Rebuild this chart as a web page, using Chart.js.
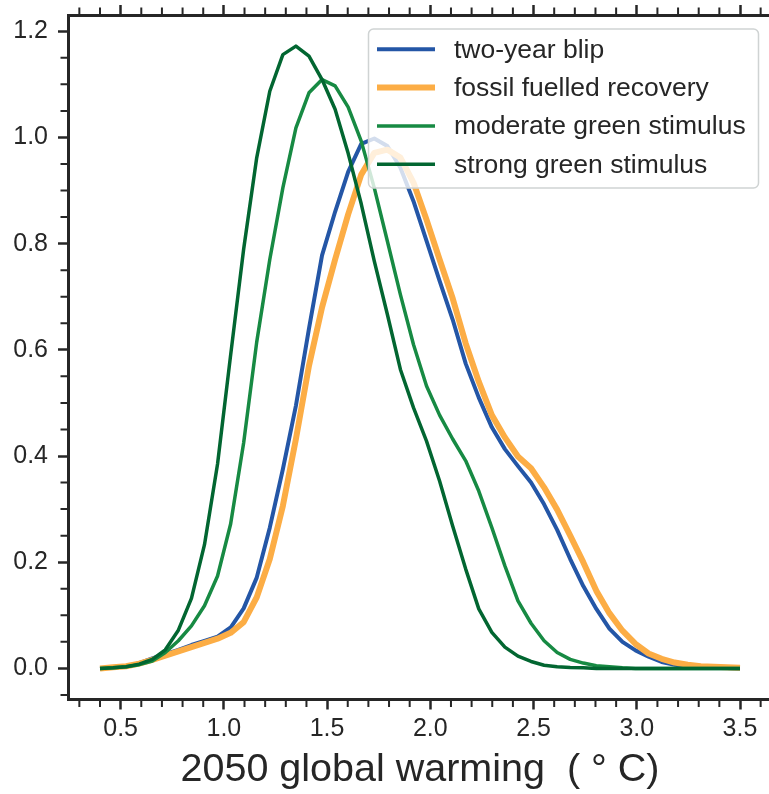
<!DOCTYPE html>
<html>
<head>
<meta charset="utf-8">
<script src="https://cdn.jsdelivr.net/npm/chart.js@4.4.0/dist/chart.umd.min.js"></script>
<style>
    html, body { margin: 0; padding: 0; background: #fff; overflow: hidden; }
    #wrap { width: 775px; height: 794px; }
</style>
</head>
<body>
<div id="wrap"><canvas id="myChart" width="775" height="794"></canvas></div>
<script>
// valores (50 puntos entre 0.4 y 3.5)
const warming = [0.4, 0.4633, 0.5265, 0.5898, 0.6531, 0.7163, 0.7796, 0.8429, 0.9061, 0.9694,
    1.0327, 1.0959, 1.1592, 1.2224, 1.2857, 1.3490, 1.4122, 1.4755, 1.5388, 1.6020,
    1.6653, 1.7286, 1.7918, 1.8551, 1.9184, 1.9816, 2.0449, 2.1082, 2.1714, 2.2347,
    2.2980, 2.3612, 2.4245, 2.4878, 2.5510, 2.6143, 2.6776, 2.7408, 2.8041, 2.8673,
    2.9306, 2.9939, 3.0571, 3.1204, 3.1837, 3.2469, 3.3102, 3.3735, 3.4367, 3.5];

const twoYearBlip = [0, 0.002, 0.004, 0.010, 0.019, 0.027, 0.035, 0.044, 0.052, 0.060,
    0.077, 0.113, 0.171, 0.265, 0.375, 0.495, 0.640, 0.778, 0.860, 0.935,
    0.988, 0.998, 0.984, 0.943, 0.880, 0.805, 0.730, 0.657, 0.574, 0.510,
    0.454, 0.413, 0.381, 0.350, 0.309, 0.261, 0.206, 0.155, 0.112, 0.075,
    0.050, 0.034, 0.022, 0.012, 0.007, 0.004, 0.002, 0.001, 0.0005, 0];

const fossilRecovery = [0, 0.002, 0.004, 0.009, 0.016, 0.024, 0.032, 0.040, 0.048, 0.056,
    0.067, 0.087, 0.134, 0.206, 0.306, 0.432, 0.570, 0.680, 0.770, 0.855,
    0.930, 0.971, 0.977, 0.962, 0.915, 0.845, 0.770, 0.697, 0.612, 0.540,
    0.477, 0.435, 0.399, 0.377, 0.341, 0.299, 0.250, 0.200, 0.146, 0.104,
    0.071, 0.046, 0.028, 0.018, 0.011, 0.007, 0.004, 0.003, 0.002, 0.001];

const moderateGreen = [0, 0.001, 0.003, 0.007, 0.014, 0.030, 0.052, 0.080, 0.118, 0.174,
    0.272, 0.425, 0.615, 0.770, 0.905, 1.018, 1.084, 1.109, 1.097, 1.057,
    0.993, 0.905, 0.805, 0.704, 0.610, 0.532, 0.477, 0.432, 0.391, 0.334,
    0.265, 0.193, 0.127, 0.085, 0.052, 0.030, 0.017, 0.010, 0.005, 0.003,
    0.001, 0, 0, 0, 0, 0, 0, 0, 0, 0];

const strongGreen = [0, 0.001, 0.003, 0.008, 0.017, 0.035, 0.072, 0.132, 0.233, 0.385,
    0.590, 0.790, 0.962, 1.087, 1.156, 1.172, 1.153, 1.109, 1.053, 0.970,
    0.875, 0.767, 0.667, 0.563, 0.491, 0.428, 0.353, 0.268, 0.187, 0.112,
    0.068, 0.040, 0.023, 0.013, 0.006, 0.003, 0.0015, 0.001, 0, 0,
    0, 0, 0, 0, 0, 0, 0, 0, 0, 0];

const seriesNames = ['two-year blip', 'fossil fuelled recovery', 'moderate green stimulus', 'strong green stimulus'];

const xTicks = [0.5, 1.0, 1.5, 2.0, 2.5, 3.0, 3.5];
const xMinorTicks = [0.3, 0.4, 0.6, 0.7, 0.8, 0.9, 1.1, 1.2, 1.3, 1.4, 1.6, 1.7, 1.8, 1.9,
    2.1, 2.2, 2.3, 2.4, 2.6, 2.7, 2.8, 2.9, 3.1, 3.2, 3.3, 3.4, 3.6];
const yTicks = [0.0, 0.2, 0.4, 0.6, 0.8, 1.0, 1.2];
const yMinorTicks = [-0.05, 0.05, 0.1, 0.15, 0.25, 0.3, 0.35, 0.45, 0.5, 0.55, 0.65, 0.7, 0.75,
    0.85, 0.9, 0.95, 1.05, 1.1, 1.15];

const axisColor = '#262626';
const textColor = '#262626';
const fontFamily = '"Liberation Sans", Arial, Helvetica, sans-serif';

function toPoints(values) {
    return values.map((v, i) => ({ x: warming[i], y: v }));
}

// quita el relleno que Chart.js reserva para las etiquetas de los extremos
function noEdgePadding(s) {
    s.paddingTop = 0;
    s.paddingBottom = 0;
    s.paddingLeft = 0;
    s.paddingRight = 0;
}

// ticks menores y eje superior
const minorTicks = {
    id: 'minorTicks',
    afterDraw(chart) {
        const ctx = chart.ctx;
        const area = chart.chartArea;
        ctx.save();
        ctx.strokeStyle = axisColor;
        ctx.lineWidth = 2;
        ctx.beginPath();
        xMinorTicks.forEach(v => {
            const px = chart.scales.x.getPixelForValue(v);
            ctx.moveTo(px, area.bottom);
            ctx.lineTo(px, area.bottom + 7.5);
            ctx.moveTo(px, area.top);
            ctx.lineTo(px, area.top - 7.5);
        });
        yMinorTicks.forEach(v => {
            const py = chart.scales.y.getPixelForValue(v);
            ctx.moveTo(area.left, py);
            ctx.lineTo(area.left - 7.5, py);
        });
        ctx.stroke();
        ctx.restore();
    }
};

// leyenda con caja dentro del área del gráfico
const boxLegend = {
    id: 'boxLegend',
    afterDatasetsDraw(chart) {
        const ctx = chart.ctx;
        const x = 368.5, y = 29, w = 390, h = 159, r = 5;
        ctx.save();
        ctx.beginPath();
        ctx.moveTo(x + r, y);
        ctx.lineTo(x + w - r, y);
        ctx.arcTo(x + w, y, x + w, y + r, r);
        ctx.lineTo(x + w, y + h - r);
        ctx.arcTo(x + w, y + h, x + w - r, y + h, r);
        ctx.lineTo(x + r, y + h);
        ctx.arcTo(x, y + h, x, y + h - r, r);
        ctx.lineTo(x, y + r);
        ctx.arcTo(x, y, x + r, y, r);
        ctx.closePath();
        ctx.fillStyle = 'rgba(255,255,255,0.8)';
        ctx.fill();
        ctx.strokeStyle = '#cfd3d3';
        ctx.lineWidth = 1.5;
        ctx.stroke();

        ctx.font = '26.5px ' + fontFamily;
        ctx.textBaseline = 'middle';
        chart.data.datasets.forEach((ds, i) => {
            const ly = 49.3 + i * 38.3;
            ctx.strokeStyle = ds.borderColor;
            ctx.lineWidth = ds.borderWidth;
            ctx.beginPath();
            ctx.moveTo(377, ly);
            ctx.lineTo(435, ly);
            ctx.stroke();
            ctx.fillStyle = textColor;
            ctx.fillText(ds.label, 454, ly + 1);
        });
        ctx.restore();
    }
};

const ctx = document.getElementById('myChart').getContext('2d');
const myChart = new Chart(ctx, {
    type: 'line',
    data: {
        datasets: [
            { label: seriesNames[0], data: toPoints(twoYearBlip), borderColor: '#2456a6', borderWidth: 4, order: 4 },
            { label: seriesNames[1], data: toPoints(fossilRecovery), borderColor: '#fcad45', borderWidth: 6, order: 3 },
            { label: seriesNames[2], data: toPoints(moderateGreen), borderColor: '#178a43', borderWidth: 3.5, order: 2 },
            { label: seriesNames[3], data: toPoints(strongGreen), borderColor: '#026631', borderWidth: 3.5, order: 1 }
        ]
    },
    options: {
        responsive: false,
        animation: false,
        parsing: false,
        elements: {
            point: { radius: 0 },
            line: { tension: 0, fill: false, borderJoinStyle: 'round' }
        },
        layout: { padding: { left: 0, right: 3, top: 0, bottom: 0 } },
        plugins: {
            legend: { display: false },
            tooltip: { enabled: false }
        },
        scales: {
            x: {
                type: 'linear',
                position: 'bottom',
                min: 0.245,
                max: 3.655,
                afterBuildTicks: s => { s.ticks = xTicks.map(v => ({ value: v })); },
                afterFit: s => { s.height = 94.5; noEdgePadding(s); },
                grid: { drawOnChartArea: false, drawTicks: true, tickLength: 10, tickWidth: 2.5, tickColor: axisColor },
                border: { display: true, color: axisColor, width: 3 },
                ticks: {
                    color: textColor,
                    font: { size: 25, family: fontFamily },
                    padding: 5,
                    maxRotation: 0,
                    autoSkip: false,
                    callback: v => v.toFixed(1)
                },
                title: {
                    display: true,
                    text: '2050 global warming  ( ° C)',
                    color: textColor,
                    font: { size: 39.5, family: fontFamily },
                    padding: { top: 0, bottom: 0 }
                }
            },
            xTop: {
                type: 'linear',
                position: 'top',
                min: 0.245,
                max: 3.655,
                afterBuildTicks: s => { s.ticks = xTicks.map(v => ({ value: v })); },
                afterFit: s => { s.height = 15; noEdgePadding(s); },
                grid: { drawOnChartArea: false, drawTicks: true, tickLength: 10, tickWidth: 2.5, tickColor: axisColor },
                border: { display: true, color: axisColor, width: 3 },
                ticks: { display: false }
            },
            y: {
                type: 'linear',
                position: 'left',
                min: -0.0586,
                max: 1.2306,
                afterBuildTicks: s => { s.ticks = yTicks.map(v => ({ value: v })); },
                afterFit: s => { s.width = 68; noEdgePadding(s); },
                grid: { drawOnChartArea: false, drawTicks: true, tickLength: 10, tickWidth: 2.5, tickColor: axisColor },
                border: { display: true, color: axisColor, width: 3 },
                ticks: {
                    color: textColor,
                    font: { size: 25, family: fontFamily },
                    padding: 10,
                    autoSkip: false,
                    callback: v => v.toFixed(1)
                }
            }
        }
    },
    plugins: [minorTicks, boxLegend]
});
</script>
</body>
</html>
